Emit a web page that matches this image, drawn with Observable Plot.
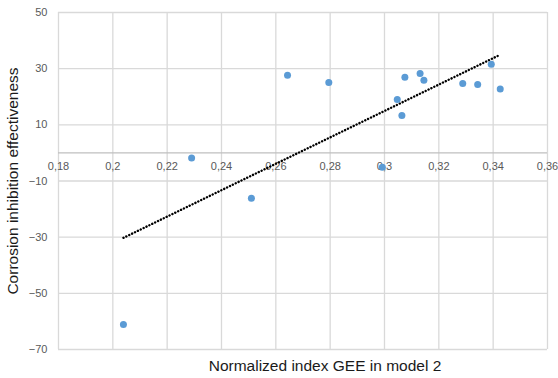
<!DOCTYPE html>
<html>
<head>
<meta charset="utf-8">
<script src="https://cdn.jsdelivr.net/npm/d3@7"></script>
<script src="https://cdn.jsdelivr.net/npm/@observablehq/plot@0.6"></script>
<style>
  html, body { margin: 0; padding: 0; background: #fff; }
</style>
</head>
<body>
<div id="chart"></div>
<script>
const gee = [0.2039, 0.229, 0.251, 0.2643, 0.2795, 0.2992, 0.3047, 0.3064, 0.3075, 0.3131, 0.3145, 0.3288, 0.3343, 0.3393, 0.3426];
const effectiveness = [-61.1, -1.8, -16.1, 27.7, 25.1, -5.1, 19.0, 13.3, 26.9, 28.3, 25.9, 24.7, 24.4, 31.6, 22.8];
const xTicks = [0.18, 0.20, 0.22, 0.24, 0.26, 0.28, 0.30, 0.32, 0.34, 0.36];
const xTickLabels = ["0,18", "0,2", "0,22", "0,24", "0,26", "0,28", "0,3", "0,32", "0,34", "0,36"];
const yTicks = [-70, -50, -30, -10, 10, 30, 50];
const xTitle = "Normalized index GEE in model 2";
const yTitle = "Corrosion inhibition effectiveness";

const data = gee.map((x, i) => ({x, y: effectiveness[i]}));
const xLabelData = xTicks.map((v, i) => ({v, label: xTickLabels[i]}));

const chart = Plot.plot({
  width: 558,
  height: 378,
  marginLeft: 58,
  marginRight: 11,
  marginTop: 12,
  marginBottom: 29,
  style: {fontFamily: "Liberation Sans, Arial, sans-serif", background: "#fff"},
  x: {domain: [0.18, 0.36]},
  y: {domain: [-70, 50]},
  marks: [
    Plot.gridX(xTicks, {stroke: "#d9d9d9", strokeOpacity: 1, strokeWidth: 1.3}),
    Plot.gridY(yTicks, {stroke: "#d9d9d9", strokeOpacity: 1, strokeWidth: 1.3}),
    Plot.axisY(yTicks, {tickSize: 0, tickPadding: 11, fontSize: 11, fill: "#595959", label: null}),
    Plot.axisX([], {label: null, tickSize: 0}),
    Plot.ruleY([0], {stroke: "#bfbfbf", strokeWidth: 1.3}),
    Plot.text(xLabelData, {x: "v", y: () => 0, text: "label", dy: 14, fontSize: 11, fill: "#595959"}),
    Plot.linearRegressionY(data, {x: "x", y: "y", ci: 0, stroke: "#000", strokeWidth: 2.4, strokeDasharray: "0.1,3.1", strokeLinecap: "round"}),
    Plot.dot(data, {x: "x", y: "y", r: 3.5, fill: "#5b9bd5", stroke: "none"}),
    Plot.text([yTitle], {frameAnchor: "left", textAnchor: "middle", rotate: -90, dx: -45.5, fontSize: 15.5, fill: "#1a1a1a"}),
    Plot.text([xTitle], {frameAnchor: "bottom", textAnchor: "middle", dy: 21, dx: 22, fontSize: 15.5, fill: "#1a1a1a"})
  ]
});
document.getElementById("chart").appendChild(chart);
</script>
</body>
</html>
